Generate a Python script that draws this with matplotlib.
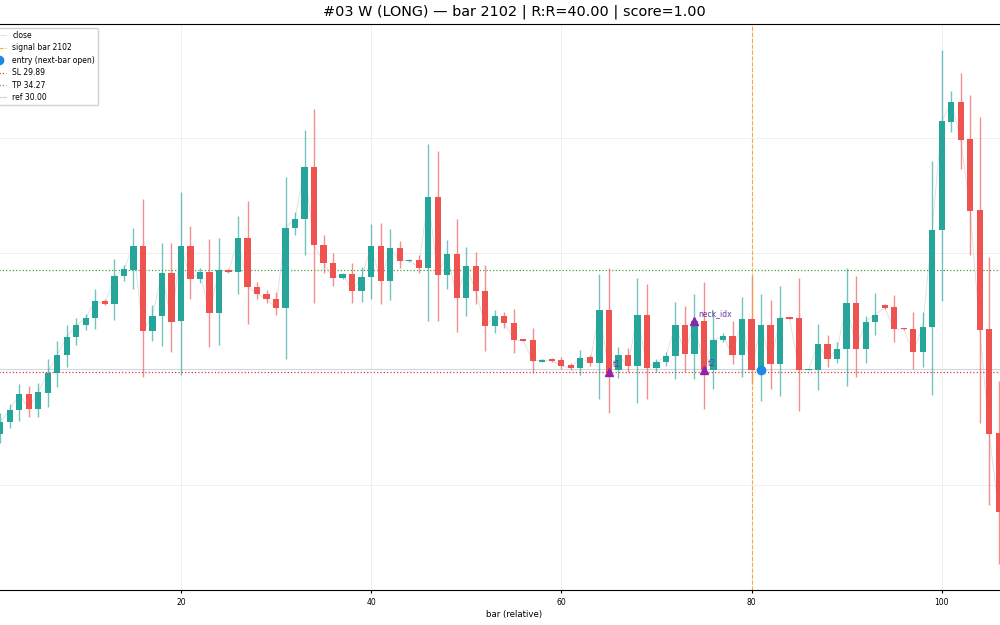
import numpy as np
import matplotlib
matplotlib.use("Agg")
import matplotlib.pyplot as plt

# bar index (relative) and OHLC
bars = list(range(1, 107))
opens = [27.20, 27.73, 28.24, 28.93, 28.30, 28.99, 29.85, 30.63, 31.39, 31.91,
         32.21, 32.96, 32.81, 34.02, 34.28, 35.32, 31.66, 32.30, 34.16, 32.07,
         35.33, 33.88, 34.18, 32.41, 34.29, 34.18, 35.66, 33.56, 33.26, 33.04,
         32.64, 36.11, 36.50, 38.73, 35.35, 34.60, 33.95, 34.11, 33.38, 33.98,
         35.30, 33.81, 35.23, 34.67, 34.71, 34.38, 37.43, 34.07, 34.98, 33.09,
         34.45, 33.38, 31.86, 32.30, 32.01, 31.29, 31.26, 30.32, 30.43, 30.38,
         30.18, 30.05, 30.51, 30.25, 32.54, 29.97, 30.61, 30.14, 32.35, 30.06,
         30.31, 30.56, 31.92, 30.67, 32.09, 29.97, 31.26, 31.43, 30.60, 32.15,
         29.97, 31.91, 30.22, 32.24, 32.21, 29.98, 29.97, 31.09, 30.45, 30.86,
         32.84, 30.89, 32.04, 32.78, 32.68, 31.78, 31.75, 30.74, 31.83, 36.01,
         40.69, 41.53, 39.92, 36.87, 31.73, 27.25]
highs = [28.11, 28.50, 29.36, 29.27, 29.40, 30.44, 31.22, 31.92, 32.21, 32.38,
         33.46, 33.04, 34.76, 34.51, 36.09, 37.33, 32.76, 35.46, 35.45, 37.65,
         36.18, 34.35, 35.61, 35.66, 34.34, 36.60, 37.27, 33.78, 33.43, 33.34,
         38.30, 36.78, 40.32, 41.23, 35.80, 35.00, 34.16, 34.57, 34.42, 36.25,
         36.32, 36.04, 35.53, 34.76, 34.92, 39.71, 39.40, 35.58, 36.47, 35.26,
         35.05, 34.48, 32.56, 32.48, 32.59, 31.31, 31.77, 30.45, 30.48, 30.51,
         30.25, 30.83, 30.60, 34.10, 34.38, 30.97, 30.91, 33.94, 33.69, 30.45,
         30.73, 32.91, 32.74, 33.23, 33.75, 32.51, 31.55, 32.07, 33.10, 34.02,
         33.26, 32.97, 33.60, 32.27, 33.95, 30.00, 31.96, 31.46, 31.16, 34.38,
         34.04, 32.30, 33.30, 32.82, 33.22, 31.80, 32.49, 32.49, 39.00, 43.76,
         42.01, 42.77, 41.83, 40.89, 34.83, 29.50]
lows = [26.81, 27.46, 27.76, 27.94, 27.94, 28.37, 29.23, 30.09, 31.04, 31.69,
        31.75, 32.76, 32.12, 33.82, 33.47, 29.65, 31.20, 31.00, 30.74, 29.74,
        33.04, 33.71, 30.97, 31.04, 34.14, 33.25, 31.95, 33.04, 32.84, 32.34,
        30.45, 35.79, 34.92, 32.84, 34.14, 33.59, 33.89, 32.87, 32.91, 33.02,
        32.80, 32.99, 34.35, 34.63, 34.16, 32.09, 32.09, 33.47, 31.62, 32.30,
        32.80, 30.77, 31.55, 31.79, 30.69, 31.21, 29.85, 30.30, 30.31, 30.01,
        29.97, 29.74, 30.13, 28.71, 28.10, 29.62, 29.87, 28.54, 28.70, 29.87,
        30.13, 29.56, 29.87, 29.59, 28.30, 29.13, 31.16, 30.21, 29.65, 29.36,
        28.64, 29.16, 28.86, 32.17, 28.21, 29.96, 29.09, 30.08, 30.25, 29.29,
        29.67, 30.26, 31.48, 32.60, 31.16, 31.71, 30.00, 30.11, 28.88, 32.93,
        40.22, 38.66, 34.94, 27.66, 24.12, 21.59]
closes = [27.73, 28.24, 28.93, 28.30, 29.02, 29.85, 30.63, 31.39, 31.91, 32.21,
          32.96, 32.81, 34.02, 34.31, 35.32, 31.66, 32.30, 34.16, 32.04, 35.33,
          33.88, 34.18, 32.41, 34.29, 34.18, 35.66, 33.56, 33.26, 33.04, 32.64,
          36.11, 36.50, 38.73, 35.35, 34.60, 33.95, 34.10, 33.38, 33.99, 35.30,
          33.81, 35.23, 34.67, 34.71, 34.38, 37.43, 34.07, 34.98, 33.09, 34.45,
          33.38, 31.86, 32.30, 32.01, 31.26, 31.23, 30.34, 30.41, 30.35, 30.15,
          30.05, 30.50, 30.25, 32.54, 29.88, 30.61, 30.14, 32.35, 30.06, 30.31,
          30.56, 31.92, 30.67, 32.09, 29.97, 31.26, 31.43, 30.60, 32.15, 29.97,
          31.91, 30.22, 32.22, 32.18, 29.97, 29.99, 31.09, 30.43, 30.86, 32.84,
          30.89, 32.05, 32.35, 32.64, 31.73, 31.73, 30.74, 31.84, 36.02, 40.70,
          41.53, 39.89, 36.84, 31.70, 27.20, 23.82]

signal_bar = 80
entry_bar, entry_price = 81, 29.97
sl, tp, ref = 29.89, 34.27, 30.00
pattern_bars = [65, 74, 75]
pattern_prices = [29.90, 32.09, 29.97]
pattern_labels = ["t1", "neck_idx", "t2"]

up_col = "#26a69a"
dn_col = "#ef5350"

fig = plt.figure(figsize=(10, 6.25), dpi=100)
# axes runs past the left edge of the canvas, like the reference crop
ax = fig.add_axes([-0.016, 0.056, 1.061, 0.9056])

x = np.array(bars)
o = np.array(opens)
h = np.array(highs)
l = np.array(lows)
c = np.array(closes)
cols = np.where(c >= o, up_col, dn_col)

ax.plot(x, c, color="#9e9e9e", lw=0.6, alpha=0.35, label="close", zorder=1)
ax.vlines(x, l, h, colors=cols, lw=1.0, alpha=0.65, zorder=2)
body = np.maximum(np.abs(c - o), 0.04)
ax.bar(x, body, bottom=np.minimum(o, c), width=0.66, color=cols, zorder=3)

ax.axvline(signal_bar, color="#f5a623", ls="--", lw=0.8, alpha=0.9,
           label="signal bar 2102", zorder=2)
ax.plot([entry_bar], [entry_price], "o", color="#1e88e5", ms=6,
        label="entry (next-bar open)", zorder=5)
ax.axhline(sl, color="#e53935", ls=":", lw=0.9, label=f"SL {sl:.2f}", zorder=1)
ax.axhline(tp, color="#43a047", ls=":", lw=0.9, label=f"TP {tp:.2f}", zorder=1)
ax.axhline(ref, color="#90a4c8", ls="-", lw=0.8, alpha=0.5,
           label=f"ref {ref:.2f}", zorder=1)

ax.plot(pattern_bars, pattern_prices, "^", color="#8e24aa", ms=6, zorder=6)
for bx, py, lab in zip(pattern_bars, pattern_prices, pattern_labels):
    ax.annotate(lab, (bx, py), xytext=(3, 3), textcoords="offset points",
                fontsize=5.5, color="#6a3aa0", zorder=7)

ax.set_xlim(-0.71, 110.86)
ax.set_ylim(20.47, 44.9)
ax.set_xticks([20, 40, 60, 80, 100])
ax.set_yticks([25, 30, 35, 40])
ax.tick_params(axis="x", labelsize=5.5, length=2.5)
ax.tick_params(axis="y", labelleft=False, length=0)
ax.grid(True, color="#dddddd", lw=0.6, alpha=0.5)
ax.set_xlabel("bar (relative)", fontsize=6.2, labelpad=2)
ax.set_title("#03 W (LONG) — bar 2102 | R:R=40.00 | score=1.00", fontsize=10.35, pad=6)
ax.legend(loc="upper left", fontsize=5.5, labelspacing=0.45, framealpha=0.9)

fig.savefig("out.png", dpi=100)
